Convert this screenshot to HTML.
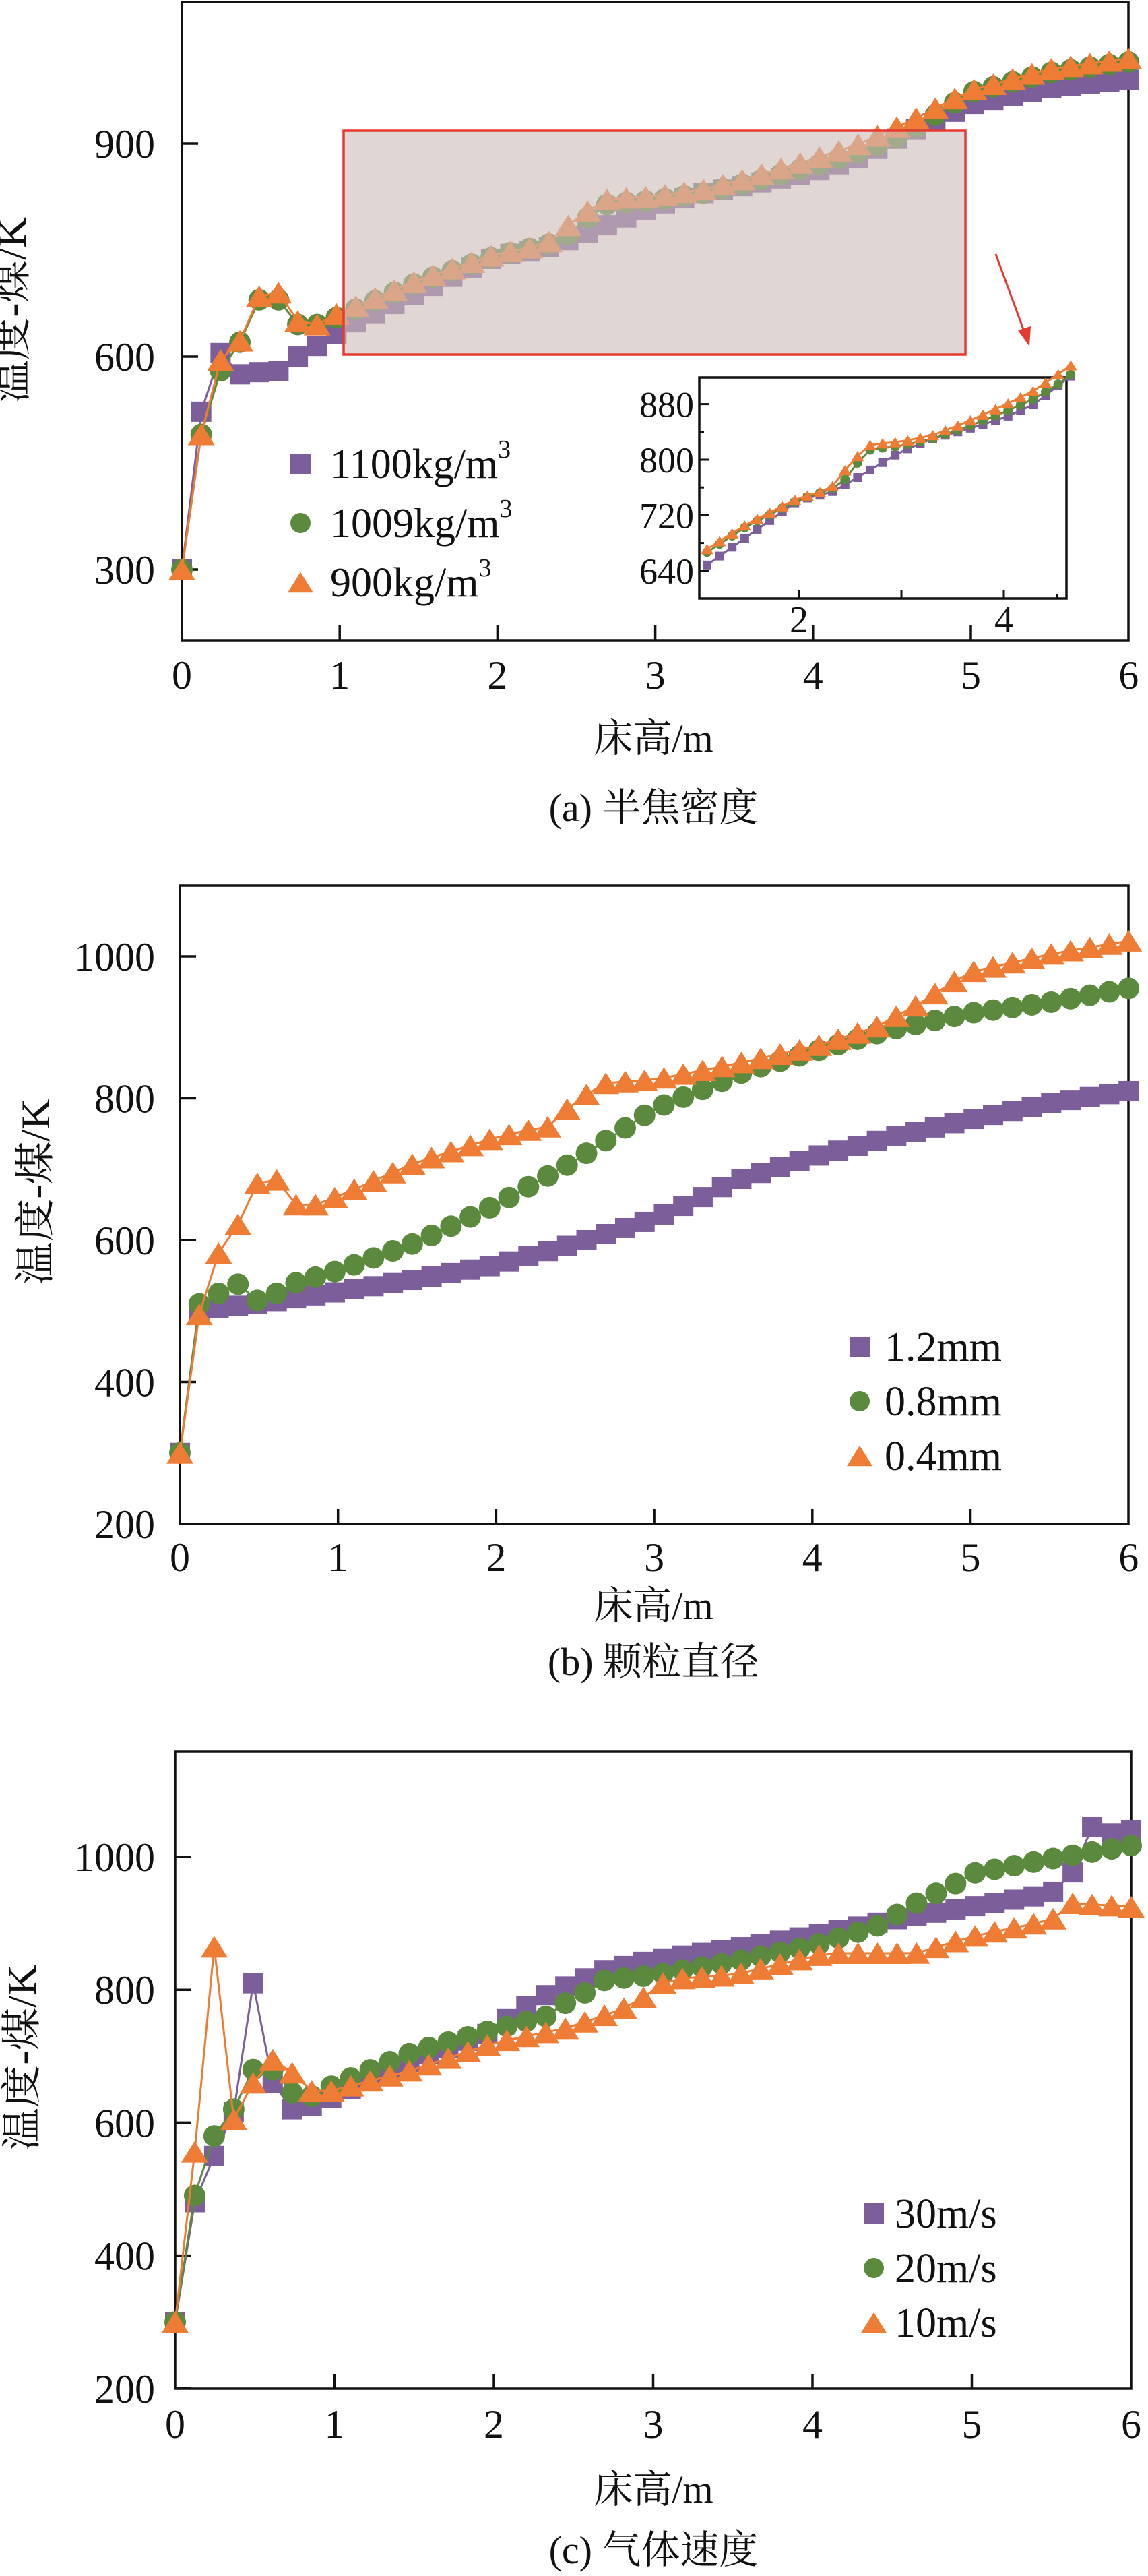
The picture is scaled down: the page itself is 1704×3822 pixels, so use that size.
<!DOCTYPE html>
<html><head><meta charset="utf-8">
<style>
html,body{margin:0;padding:0;background:#fff;}
svg{display:block;}
text{font-family:"Liberation Serif","Noto Serif CJK SC",serif;fill:#111;}
</style></head>
<body>
<svg id="s" xmlns="http://www.w3.org/2000/svg" width="1704" height="3822" viewBox="0 0 1704 3822">
<rect width="1704" height="3822" fill="#fff"/>
</svg>
<script>
const S=document.getElementById('s');const NS='http://www.w3.org/2000/svg';
function el(t,a,txt){const e=document.createElementNS(NS,t);for(const k in a)e.setAttribute(k,a[k]);if(txt!==undefined)e.textContent=txt;S.appendChild(e);return e;}
const P='#7b5e9a',G='#5b8a3e',O='#ef7c35';
function interp(kp,v){for(let i=0;i<kp.length-1;i++){if(v<=kp[i+1][0]+1e-9){const a=kp[i],b=kp[i+1];const t=(v-a[0])/(b[0]-a[0]);return a[1]+t*(b[1]-a[1]);}}return kp[kp.length-1][1];}
const XS=[];for(let i=0;i<50;i++)XS.push(i*6/49);
function marker(type,x,y,c,s,op){
 const o={fill:c};if(op)o.opacity=op;
 if(type==='s'){o.x=x-s/2;o.y=y-s/2;o.width=s;o.height=s;el('rect',o);}
 else if(type==='c'){o.cx=x;o.cy=y;o.r=s/2;el('circle',o);}
 else {const h=s*0.8;o.points=`${x-s/2},${y+h/2} ${x+s/2},${y+h/2} ${x},${y-h/2}`;el('polygon',o);}
}
function series(kp,type,c,X,Y,s,lw,from,to){
 const pts=[];XS.forEach(v=>{if(v>=from-1e-9&&v<=to+1e-9)pts.push([X(v),Y(interp(kp,v))]);});
 el('polyline',{points:pts.map(p=>p.join(',')).join(' '),fill:'none',stroke:c,'stroke-width':lw});
 pts.forEach(p=>marker(type,p[0],p[1],c,s));
}
function axes(L,R,T,B,X,Y,yt,ylab){
 el('rect',{x:L,y:T,width:R-L,height:B-T,fill:'none',stroke:'#111','stroke-width':3.5});
 for(let v=1;v<6;v++){el('line',{x1:X(v),x2:X(v),y1:B,y2:B-22,stroke:'#111','stroke-width':3.5});}
 for(let v=0;v<=6;v++){el('text',{x:X(v),y:0,'text-anchor':'middle','font-size':60,id:'t'},v).setAttribute('y',ylab);}
 yt.forEach(t=>{el('line',{x1:L,x2:L+24,y1:Y(t),y2:Y(t),stroke:'#111','stroke-width':3.5});
  el('text',{x:230,y:Y(t)+21,'text-anchor':'end','font-size':60},t);});
}
function labels(cx,xlY,capY,cap,ylx,yly){
 el('text',{x:cx,y:xlY+20,'text-anchor':'middle','font-size':58},'床高/m');
 el('text',{x:cx,y:capY+20,'text-anchor':'middle','font-size':58},cap);
 el('text',{x:0,y:0,'text-anchor':'middle','font-size':60,transform:`translate(${ylx+20},${yly}) rotate(-90)`,textLength:276,lengthAdjust:'spacingAndGlyphs'},'温度-煤/K');
}
function legend(mx,tx,rows,items,sup){
 items.forEach((it,i)=>{const y=rows[i];marker(it[0],mx,y,it[1],it[0]==='t'?38:(it[0]==='c'?30:30));
  const t=el('text',{x:tx,y:y+21,'font-size':62},it[2]);
  if(sup){const ts=document.createElementNS(NS,'tspan');ts.setAttribute('dy',-30);ts.setAttribute('font-size',38);ts.textContent='3';t.appendChild(ts);}
 });
}
/* ---------- Panel a ---------- */
{
const X=v=>270+v*234.2, Y=T=>845-(T-300)*1.0533;
const pa=[[0,300],[0.122,522],[0.245,605],[0.367,575],[0.49,578],[0.612,580],[0.735,600],[0.857,615],[0.98,632],[1.1,648],[1.5,690],[2.0,742],[2.3,752],[2.5,768],[2.75,790],[3.0,812],[3.3,830],[3.6,842],[4.0,860],[4.3,880],[4.6,915],[5.0,955],[5.5,978],[6.0,990]];
const ga=[[0,300],[0.122,490],[0.245,580],[0.367,620],[0.49,680],[0.612,680],[0.735,645],[0.857,645],[0.98,655],[1.5,705],[2.0,742],[2.4,762],[2.57,795],[2.7,815],[3.0,820],[3.3,830],[3.6,845],[4.0,868],[4.3,888],[4.6,915],[5.0,972],[5.5,1000],[6.0,1015]];
const oa=[[0,300],[0.122,490],[0.245,595],[0.367,622],[0.49,685],[0.612,690],[0.735,650],[0.857,645],[0.98,660],[1.5,708],[2.0,745],[2.3,757],[2.45,785],[2.57,805],[2.7,822],[3.0,826],[3.3,835],[3.6,852],[4.0,878],[4.3,900],[4.6,930],[5.0,975],[5.5,1005],[6.0,1020]];
axes(270,1675,3,950,X,Y,[300,600,900],1022);
series(pa,'s',P,X,Y,30,3,0,6);
series(ga,'c',G,X,Y,32,3,0,6);
series(oa,'t',O,X,Y,40,3,0,6);
// shaded zoom rect
el('rect',{x:510,y:194,width:923,height:332,fill:'#cdbfbb',opacity:0.62});
el('rect',{x:510,y:194,width:923,height:332,fill:'none',stroke:'#e63a30','stroke-width':3.5});
// arrow
el('line',{x1:1478,y1:377,x2:1521,y2:494,stroke:'#e63a30','stroke-width':3});
el('polygon',{points:'1528,514 1511,490 1530,484',fill:'#e63a30'});
legend(446,490,[688,776,864],[['s',P,'1100kg/m'],['c',G,'1009kg/m'],['t',O,'900kg/m']],true);
labels(970,1095,1198,'(a) 半焦密度',18,460);
// inset
const XI=v=>1186+(v-2)*152, YI=T=>682-(T-800)*1.03;
el('rect',{x:1038,y:560,width:545,height:328,fill:'#fff',stroke:'#111','stroke-width':3.5});
[2,3,4].forEach(v=>el('line',{x1:XI(v),x2:XI(v),y1:888,y2:875,stroke:'#111','stroke-width':3}));
el('line',{x1:1569,x2:1569,y1:888,y2:881,stroke:'#111','stroke-width':3});
[880,800,720,640].forEach(t=>{el('line',{x1:1038,x2:1052,y1:YI(t),y2:YI(t),stroke:'#111','stroke-width':3});
 el('text',{x:1030,y:YI(t)+19,'text-anchor':'end','font-size':54},t);});
[840,760,680].forEach(t=>el('line',{x1:1038,x2:1045,y1:YI(t),y2:YI(t),stroke:'#111','stroke-width':3}));
el('text',{x:XI(2),y:938,'text-anchor':'middle','font-size':56},'2');
el('text',{x:XI(4),y:938,'text-anchor':'middle','font-size':56},'4');
series(pa,'s',P,XI,YI,13,3,1.0,4.7);
series(ga,'c',G,XI,YI,14,3,1.0,4.7);
series(oa,'t',O,XI,YI,19,3,1.0,4.7);
}
/* ---------- Panel b ---------- */
{
const X=v=>267+v*234.7, Y=T=>1419-(T-1000)*1.0525;
const pb=[[0,300],[0.122,500],[0.245,505],[0.49,510],[1.0,527],[1.5,545],[2.0,565],[2.5,595],[3.0,630],[3.3,660],[3.5,683],[4.0,717],[4.5,745],[5.0,770],[5.5,793],[6.0,810]];
const gb=[[0,300],[0.122,510],[0.245,525],[0.367,538],[0.49,515],[0.612,525],[0.735,540],[1.0,557],[1.5,597],[2.0,650],[2.5,712],[3.0,785],[3.3,812],[3.6,840],[4.0,865],[4.5,897],[5.0,920],[5.5,935],[6.0,955]];
const ob=[[0,300],[0.122,495],[0.245,582],[0.367,622],[0.49,680],[0.612,685],[0.735,650],[0.857,650],[0.98,660],[1.5,710],[2.0,745],[2.2,755],[2.33,760],[2.45,785],[2.57,805],[2.7,822],[3.0,826],[3.5,848],[4.0,872],[4.4,900],[4.65,930],[4.9,965],[5.0,978],[5.5,1003],[6.0,1022]];
axes(267,1675,1314,2261,X,Y,[200,400,600,800,1000],2331);
series(pb,'s',P,X,Y,30,3,0,6);
series(gb,'c',G,X,Y,32,3,0,6);
series(ob,'t',O,X,Y,40,3,0,6);
legend(1276,1313,[1998,2079,2160],[['s',P,'1.2mm'],['c',G,'0.8mm'],['t',O,'0.4mm']],false);
labels(970,2382,2465,'(b) 颗粒直径',53,1768);
}
/* ---------- Panel c ---------- */
{
const X=v=>260+v*236.5, Y=T=>2755-(T-1000)*0.986;
const pc=[[0,300],[0.122,480],[0.245,550],[0.367,615],[0.49,810],[0.612,660],[0.735,620],[0.857,625],[0.98,637],[1.5,695],[2.0,737],[2.1,760],[2.2,775],[2.35,795],[2.5,810],[2.7,830],[3.0,845],[3.5,862],[4.0,882],[4.5,905],[5.0,925],[5.5,945],[5.63,975],[5.75,1045],[5.88,1035],[6.0,1040]];
const gc=[[0,300],[0.122,490],[0.245,580],[0.367,620],[0.49,680],[0.612,680],[0.735,645],[0.857,640],[0.98,655],[1.5,707],[2.0,740],[2.33,760],[2.45,780],[2.57,795],[2.7,815],[3.0,822],[3.5,842],[4.0,866],[4.4,895],[4.65,930],[4.9,960],[5.0,975],[5.5,997],[6.0,1017]];
const oc=[[0,300],[0.122,555],[0.245,865],[0.367,605],[0.49,660],[0.612,695],[0.735,675],[0.857,648],[0.98,648],[1.5,680],[2.0,720],[2.45,742],[2.8,770],[2.95,790],[3.06,810],[3.2,818],[3.5,822],[4.0,850],[4.1,855],[4.65,855],[5.0,880],[5.5,905],[5.63,930],[6.0,925]];
axes(260,1679,2599,3544,X,Y,[200,400,600,800,1000],3617);
series(pc,'s',P,X,Y,30,3,0,6);
series(gc,'c',G,X,Y,32,3,0,6);
series(oc,'t',O,X,Y,40,3,0,6);
legend(1297,1328,[3284,3365,3446],[['s',P,'30m/s'],['c',G,'20m/s'],['t',O,'10m/s']],false);
labels(970,3693,3783,'(c) 气体速度',33,3053);
}
</script>
</body></html>
